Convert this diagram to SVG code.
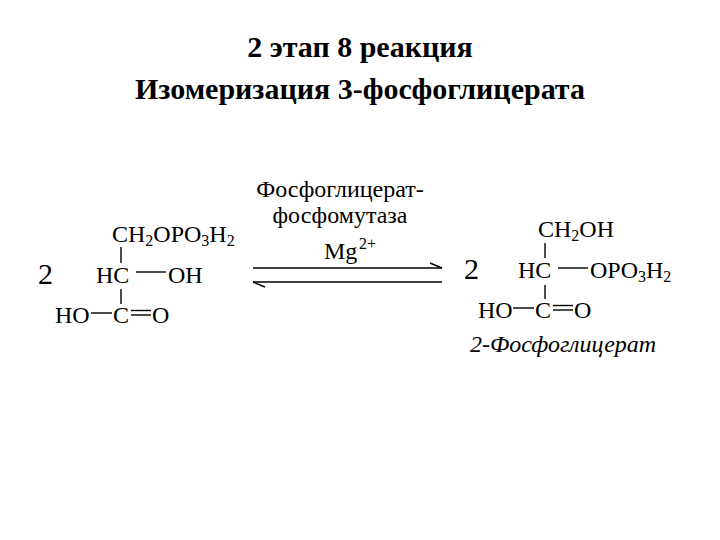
<svg xmlns="http://www.w3.org/2000/svg" width="720" height="540" viewBox="0 0 720 540" font-family="'Liberation Serif','Times New Roman','DejaVu Serif',serif">
<style>
text{fill:#000}
.t{font-size:30px;font-weight:bold;text-anchor:middle}
.f{font-size:24px}
.s{font-size:16px}
.n{font-size:30px}
line,path{stroke:#000;stroke-width:1.4;fill:none}
</style>
<rect width="720" height="540" fill="#fff"/>
<g id="title">
<text class="t" x="360" y="57">2 этап 8 реакция</text>
<text class="t" x="360" y="99">Изомеризация 3-фосфоглицерата</text>
</g>
<g id="reactant">
<text class="f" x="112" y="242">CH<tspan class="s" dy="4">2</tspan><tspan dy="-4">OPO</tspan><tspan class="s" dy="4">3</tspan><tspan dy="-4">H</tspan><tspan class="s" dy="4">2</tspan></text>
<text class="n" x="38" y="284">2</text>
<text class="f" x="96" y="283">HC</text>
<text class="f" x="168" y="283">OH</text>
<text class="f" x="55" y="323">HO</text>
<text class="f" x="113" y="323">C</text>
<text class="f" x="152" y="323">O</text>
<line x1="121" y1="247" x2="121" y2="263"/>
<line x1="136" y1="272" x2="166" y2="272"/>
<line x1="121" y1="289" x2="121" y2="304"/>
<line x1="91" y1="313" x2="112" y2="313"/>
<line x1="131" y1="310.5" x2="151" y2="310.5"/>
<line x1="131" y1="315" x2="151" y2="315"/>
</g>
<g id="connectors">
<line x1="253" y1="268" x2="442" y2="268"/>
<path d="M442 268 L430 263"/>
<line x1="253" y1="282" x2="442" y2="282"/>
<path d="M253 282 L265 287"/>
</g>
<g id="enzyme">
<text class="f" x="340" y="197" text-anchor="middle">Фосфоглицерат-</text>
<text class="f" x="340" y="223" text-anchor="middle">фосфомутаза</text>
<text class="f" x="324" y="259">Mg</text>
<text class="s" x="359" y="249">2+</text>
</g>
<g id="product">
<text class="f" x="538" y="237">CH<tspan class="s" dy="4">2</tspan><tspan dy="-4">OH</tspan></text>
<text class="n" x="464" y="279">2</text>
<text class="f" x="518" y="278">HC</text>
<text class="f" x="590" y="278">OPO<tspan class="s" dy="4">3</tspan><tspan dy="-4">H</tspan><tspan class="s" dy="4">2</tspan></text>
<text class="f" x="478" y="318">HO</text>
<text class="f" x="535" y="318">C</text>
<text class="f" x="574" y="318">O</text>
<line x1="545" y1="243" x2="545" y2="258"/>
<line x1="558" y1="268" x2="588" y2="268"/>
<line x1="545" y1="285" x2="545" y2="299"/>
<line x1="513" y1="308" x2="534" y2="308"/>
<line x1="553" y1="305.5" x2="573" y2="305.5"/>
<line x1="553" y1="310" x2="573" y2="310"/>
<text class="f" x="470" y="352" font-style="italic">2-Фосфоглицерат</text>
</g>
</svg>
